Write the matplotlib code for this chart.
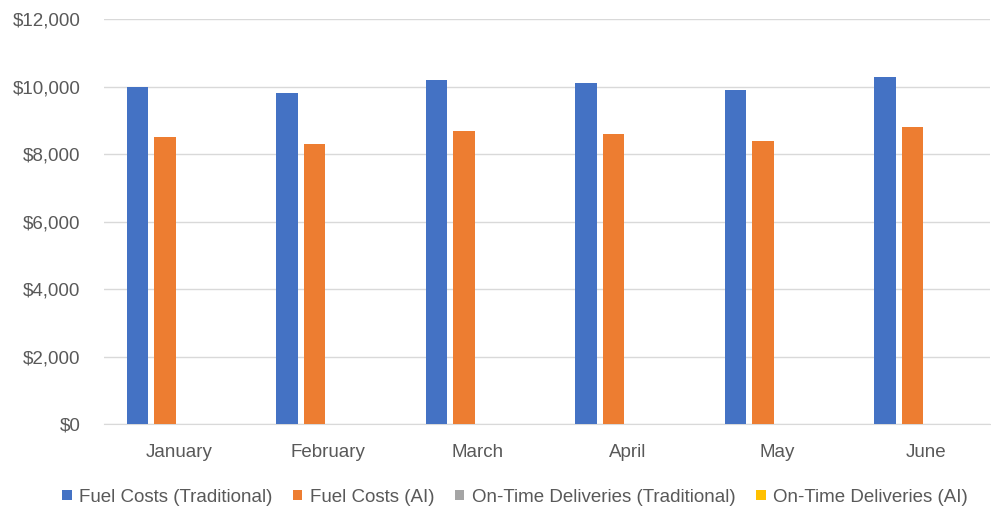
import matplotlib.pyplot as plt
import numpy as np
from matplotlib.ticker import FuncFormatter

plt.rcParams['font.family'] = ['Liberation Sans', 'DejaVu Sans']

# Data
months = ["January", "February", "March", "April", "May", "June"]
fuel_trad = [10000, 9800, 10200, 10100, 9900, 10300]
fuel_ai = [8500, 8300, 8700, 8600, 8400, 8800]
ontime_trad = [0.85, 0.86, 0.84, 0.87, 0.85, 0.86]
ontime_ai = [0.95, 0.96, 0.94, 0.97, 0.95, 0.96]

series = [
    ("Fuel Costs (Traditional)", fuel_trad, "#4472C4"),
    ("Fuel Costs (AI)", fuel_ai, "#ED7D31"),
    ("On-Time Deliveries (Traditional)", ontime_trad, "#A5A5A5"),
    ("On-Time Deliveries (AI)", ontime_ai, "#FFC000"),
]

W, H = 991, 513
fig = plt.figure(figsize=(W / 100, H / 100), dpi=100)
ax = fig.add_axes([104 / W, (H - 424.3) / H, (990 - 104) / W, 405.1 / H])

x = np.arange(len(months))
step = 0.184
width = 0.144
for i, (name, vals, col) in enumerate(series):
    ax.bar(x + (i - 1.5) * step, vals, width, color=col, label=name, zorder=3)

ax.set_xlim(-0.5, 5.5 - 11 / 149.5)
ax.set_ylim(0, 12000)
ax.set_yticks(range(0, 12001, 2000))
ax.yaxis.set_major_formatter(FuncFormatter(lambda v, p: f"${v:,.0f}"))
ax.set_xticks(x)
ax.set_xticklabels(months)

ax.grid(axis='y', color='#d9d9d9', linewidth=1, zorder=0)
for s in ['top', 'right', 'left']:
    ax.spines[s].set_visible(False)
ax.spines['bottom'].set_color('#d9d9d9')
ax.tick_params(axis='both', length=0, labelsize=13.5, colors='#595959')
ax.tick_params(axis='y', pad=17)
ax.tick_params(axis='x', pad=14)

fig.legend(loc='center', bbox_to_anchor=(515 / W, (H - 497) / H), ncol=4,
           frameon=False, fontsize=13.5, labelcolor='#595959',
           handlelength=0.5, handleheight=0.5, handletextpad=0.4,
           columnspacing=1.1)

plt.savefig('out.png', dpi=100)
